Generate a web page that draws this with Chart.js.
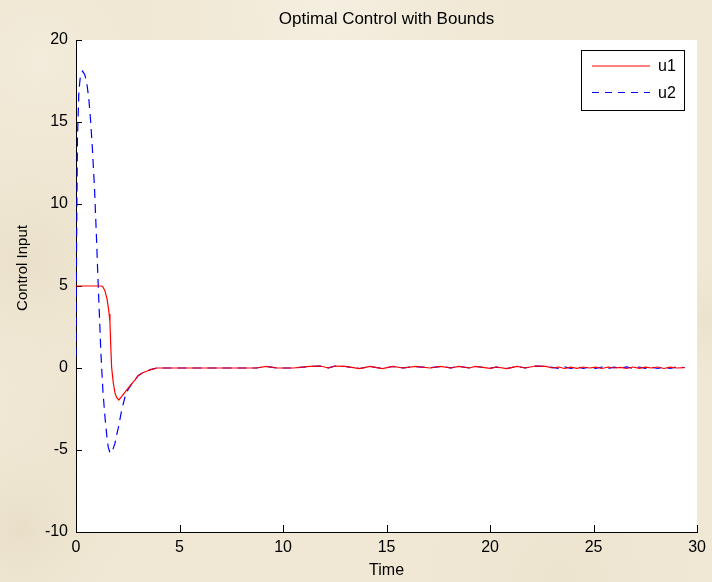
<!DOCTYPE html>
<html>
<head>
<meta charset="utf-8">
<title>Optimal Control with Bounds</title>
<script src="https://cdn.jsdelivr.net/npm/chart.js@4.4.1/dist/chart.umd.min.js"></script>
<style>
  html, body { margin: 0; padding: 0; background: #f1e9d6; }
  #wrap { width: 712px; height: 582px; position: relative; }
  canvas { display: block; }
</style>
</head>
<body>
<div id="wrap"><canvas id="chart" width="712" height="582"></canvas></div>
<script>
// Simulation output: time samples and the two bounded control inputs
const timeSamples = [
  0, 0.03, 0.07, 0.14, 0.22, 0.32, 0.42, 0.52, 0.62, 0.71,
  0.8, 0.9, 1.0, 1.05, 1.1, 1.15, 1.2, 1.24, 1.3, 1.4,
  1.5, 1.56, 1.6, 1.64, 1.68, 1.72, 1.8, 1.88, 1.96, 2.07,
  2.2, 2.36, 2.52, 2.68, 2.85, 3.0, 3.2, 3.41, 3.6, 3.9,
  4.3, 5, 6, 7, 8, 8.7, 9.2, 9.7, 10.5, 11.3,
  11.8, 12.2, 12.5, 13.0, 13.7, 14.2, 14.8, 15.3, 15.8, 16.4,
  17.1, 17.6, 18.1, 18.5, 19.0, 19.3, 20.0, 20.3, 20.8, 21.3,
  21.7, 22.2, 22.7, 23.0, 23.3, 23.6, 23.9, 24.2, 24.5, 24.8,
  25.1, 25.4, 25.7, 26.0, 26.3, 26.6, 26.9, 27.2, 27.5, 27.8,
  28.1, 28.4, 28.7, 29.0, 29.4
];

const u1Values = [
  5, 5, 5, 5, 5, 5, 5, 5, 5, 5,
  5, 5, 5, 5, 5, 5, 5, 5, 4.95, 4.7,
  4.2, 3.7, 3.3, 2.8, 1.3, 0.05, -0.9, -1.5, -1.8, -1.95,
  -1.75, -1.49, -1.22, -0.98, -0.72, -0.47, -0.3, -0.2, -0.1, 0,
  0, 0, 0, 0, 0, 0, 0.1, 0, 0, 0.1,
  0.12, 0, 0.12, 0.1, -0.04, 0.1, -0.04, 0.1, 0, 0.1,
  0, 0.1, 0, 0.1, 0, 0.1, -0.02, 0.06, -0.04, 0.1,
  0, 0.12, 0.1, 0, 0.06, -0.03, 0.05, -0.02, 0.06, 0,
  0.05, -0.03, 0.06, 0, 0.04, -0.03, 0.06, -0.02, 0.05, 0,
  0.06, -0.03, 0.05, 0, 0.02
];

const u2Values = [
  0.7, 8, 14, 16.9, 17.9, 18.1, 17.9, 17.4, 16.4, 15,
  13.2, 10.8, 7.6, 5.8, 4.2, 2.6, 1.0, 0, -1.4, -3.0,
  -4.3, -4.84, -5.0, -5.15, -5.2, -5.15, -4.9, -4.6, -4.1, -3.5,
  -2.6, -1.8, -1.3, -0.98, -0.72, -0.47, -0.3, -0.2, -0.1, 0,
  0, 0, 0, 0, 0, 0, 0.09, 0, 0, 0.09,
  0.11, 0.01, 0.11, 0.09, -0.03, 0.09, -0.03, 0.09, 0.01, 0.09,
  0.01, 0.09, 0.01, 0.09, 0.01, 0.09, -0.01, 0.05, -0.03, 0.09,
  0.01, 0.11, 0.09, 0.04, -0.02, 0.07, -0.03, 0.06, -0.02, 0.05,
  -0.02, 0.06, -0.03, 0.05, -0.02, 0.07, -0.03, 0.06, -0.02, 0.05,
  -0.03, 0.07, -0.02, 0.06, 0.03
];

const seriesNames = ['u1', 'u2'];
const xTicks = [0, 5, 10, 15, 20, 25, 30];
const yTicks = [-10, -5, 0, 5, 10, 15, 20];

const chartTitle = 'Optimal Control with Bounds';
const xAxisLabel = 'Time';
const yAxisLabel = 'Control Input';

const FONT = '"Liberation Sans", Arial, Helvetica, sans-serif';

function toPoints(values) {
  return timeSamples.map((t, i) => ({ x: t, y: values[i] }));
}

// Paper-like backdrop, white axes box, inward tick marks
const framePlugin = {
  id: 'frame',
  beforeDraw(chart) {
    const { ctx, chartArea: a, width, height } = chart;
    ctx.save();
    ctx.fillStyle = '#f0e8d4';
    ctx.fillRect(0, 0, width, height);
    const blobs = [
      [330, 10, 240, 'rgba(247,242,231,0.7)'],
      [40, 60, 120, 'rgba(246,240,228,0.5)'],
      [30, 260, 140, 'rgba(226,214,190,0.45)'],
      [110, 430, 150, 'rgba(228,217,194,0.35)'],
      [20, 530, 120, 'rgba(224,212,187,0.45)'],
      [705, 320, 80, 'rgba(228,216,192,0.35)'],
      [560, 580, 200, 'rgba(230,220,198,0.35)']
    ];
    for (const [x, y, r, c] of blobs) {
      const g = ctx.createRadialGradient(x, y, 0, x, y, r);
      g.addColorStop(0, c);
      g.addColorStop(1, 'rgba(240,232,212,0)');
      ctx.fillStyle = g;
      ctx.fillRect(0, 0, width, height);
    }
    ctx.fillStyle = '#ffffff';
    ctx.fillRect(a.left, a.top, a.right - a.left, a.bottom - a.top);
    ctx.restore();
  },
  beforeDatasetsDraw(chart) {
    const { ctx, chartArea: a, scales } = chart;
    ctx.save();
    ctx.strokeStyle = '#000';
    ctx.lineWidth = 1;
    ctx.beginPath();
    for (const v of xTicks) {
      const px = Math.round(scales.x.getPixelForValue(v)) + 0.5;
      ctx.moveTo(px, a.bottom);
      ctx.lineTo(px, a.bottom - 7);
    }
    for (const v of yTicks) {
      const py = Math.round(scales.y.getPixelForValue(v)) + 0.5;
      ctx.moveTo(a.left, py);
      ctx.lineTo(a.left + 6, py);
    }
    ctx.stroke();
    ctx.restore();
  }
};

// Title, axis labels and the boxed legend in the upper right
const labelPlugin = {
  id: 'labels',
  afterDraw(chart) {
    const { ctx, chartArea: a } = chart;
    const cx = (a.left + a.right) / 2;
    ctx.save();
    ctx.fillStyle = '#000';
    ctx.textAlign = 'center';
    ctx.textBaseline = 'middle';
    ctx.font = '17px ' + FONT;
    ctx.fillText(chartTitle, cx, 19);
    ctx.font = '16px ' + FONT;
    ctx.fillText(xAxisLabel, cx, 571);
    ctx.save();
    ctx.translate(23, 268);
    ctx.rotate(-Math.PI / 2);
    ctx.font = '15px ' + FONT;
    ctx.fillText(yAxisLabel, 0, 0);
    ctx.restore();

    // legend box
    const bx = 581.5, by = 50.5, bw = 103, bh = 60;
    ctx.fillStyle = '#fff';
    ctx.fillRect(bx, by, bw, bh);
    ctx.strokeStyle = '#000';
    ctx.lineWidth = 1;
    ctx.strokeRect(bx, by, bw, bh);
    const rows = [66, 92.5];
    chart.data.datasets.forEach((ds, i) => {
      ctx.strokeStyle = ds.borderColor;
      ctx.lineWidth = ds.borderWidth;
      ctx.setLineDash(ds.legendDash || []);
      ctx.beginPath();
      ctx.moveTo(592, rows[i]);
      ctx.lineTo(650, rows[i]);
      ctx.stroke();
      ctx.setLineDash([]);
      ctx.fillStyle = '#000';
      ctx.textAlign = 'left';
      ctx.font = '16px ' + FONT;
      ctx.fillText(ds.label, 658, rows[i] + 1);
    });
    ctx.restore();
  }
};

new Chart(document.getElementById('chart'), {
  type: 'line',
  data: {
    datasets: [
      {
        label: seriesNames[0],
        data: toPoints(u1Values),
        borderColor: '#ff0000',
        borderWidth: 1.2,
        pointRadius: 0,
        tension: 0,
        fill: false
      },
      {
        label: seriesNames[1],
        data: toPoints(u2Values),
        borderColor: '#0000ff',
        borderWidth: 1.2,
        borderDash: [9, 6],
        legendDash: [7, 6],
        pointRadius: 0,
        tension: 0,
        fill: false
      }
    ]
  },
  options: {
    responsive: false,
    animation: false,
    devicePixelRatio: 1,
    layout: { padding: { top: 40, right: 14, left: 0, bottom: 0 } },
    plugins: {
      legend: { display: false },
      title: { display: false },
      tooltip: { enabled: false }
    },
    scales: {
      x: {
        type: 'linear',
        min: 0,
        max: 30,
        afterBuildTicks(scale) { scale.ticks = xTicks.map(v => ({ value: v })); },
        afterFit(scale) { scale.height = 50; },
        grid: { display: false, drawTicks: false },
        border: { display: true, color: '#000', width: 1 },
        ticks: { color: '#000', font: { family: FONT, size: 16 }, padding: 6, maxRotation: 0 }
      },
      y: {
        type: 'linear',
        min: -10,
        max: 20,
        afterBuildTicks(scale) { scale.ticks = yTicks.map(v => ({ value: v })); },
        afterFit(scale) { scale.width = 76; },
        grid: { display: false, drawTicks: false },
        border: { display: true, color: '#000', width: 1 },
        ticks: { color: '#000', font: { family: FONT, size: 16 }, padding: 8 }
      }
    }
  },
  plugins: [framePlugin, labelPlugin]
});
</script>
</body>
</html>
